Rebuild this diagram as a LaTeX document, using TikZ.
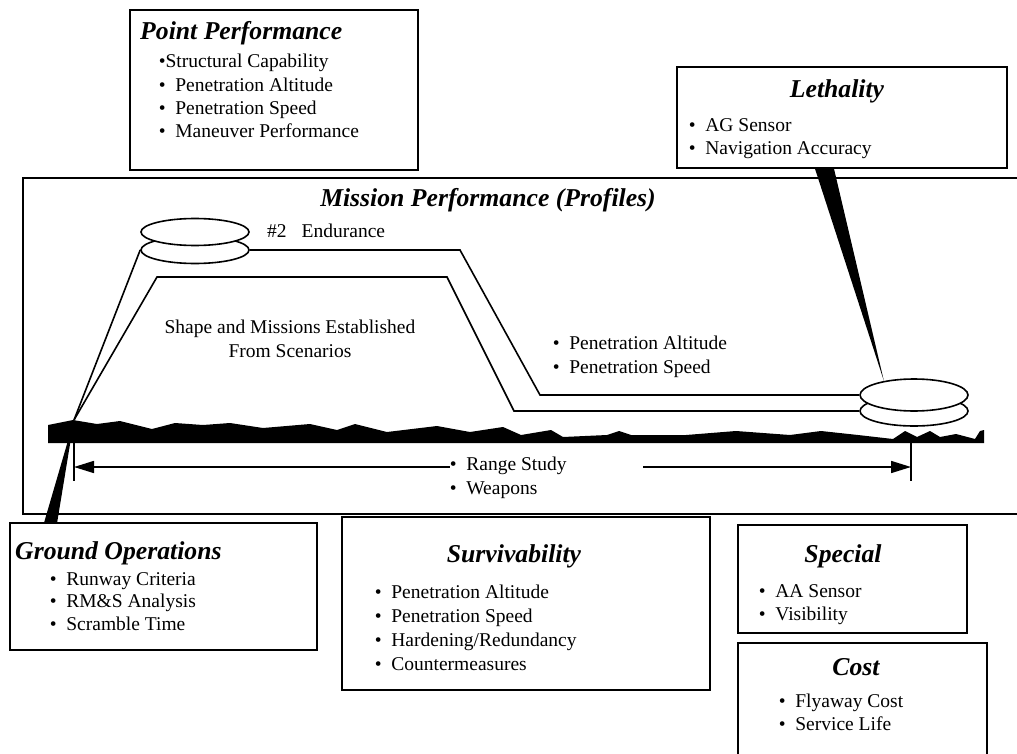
\documentclass[tikz,border=0pt]{standalone}
\usepackage{fontspec}
\setmainfont{Liberation Serif}
\usepackage{tikz}
\usetikzlibrary{positioning,shapes,arrows.meta}

\begin{document}
\begin{tikzpicture}[
  x = 1pt,
  y = -1pt,
  box/.style = {
    draw,
    line width = 1.6pt,
    fill = white,
    inner sep = 0pt,
  },
  orbit/.style = {
    draw,
    ellipse,
    line width = 1.6pt,
    fill = white,
    inner sep = 0pt,
    minimum width = 108pt,
  },
  heading/.style = {
    font = \fontsize{25.7}{30}\selectfont\bfseries\itshape,
    inner sep = 0pt,
    anchor = base,
  },
  item/.style = {
    font = \fontsize{19.5}{23}\selectfont,
    inner sep = 0pt,
    anchor = base west,
  },
  track/.style = {line width = 1.6pt},
  >={Triangle[length=20pt,width=12pt]},
]

  \useasboundingbox (0,0) rectangle (1017,754);

  % mission frame, open to the right
  \draw[line width=2.4pt] (1017,178) -- (23,178) -- (23,514) -- (1017,514);

  % boxes
  \node[box,minimum width=288pt,minimum height=160pt] (point) at (274,90) {};
  \node[box,minimum width=330pt,minimum height=101pt] (leth) at (842,117.5) {};
  \node[box,minimum width=307pt,minimum height=127pt] (gnd) at (163.5,586.5) {};
  \node[box,minimum width=368pt,minimum height=173pt] (surv) at (526,603.5) {};
  \node[box,minimum width=229pt,minimum height=108pt] (spec) at (852.5,579) {};
  \node[box,minimum width=249pt,minimum height=124pt] (cost) at (862.5,705) {};

  % terrain
  \fill (48,443) -- (48,425) -- (73,420) -- (97,424) -- (120,421) -- (152,429)
    -- (175,423) -- (203,425) -- (230,423) -- (263,428) -- (310,424) -- (337,430)
    -- (355,424) -- (387,432) -- (437,426) -- (470,432) -- (503,427) -- (521,435)
    -- (551,430) -- (563,437) -- (607,435) -- (619,431) -- (631,435) -- (686,435)
    -- (736,431) -- (790,435) -- (821,431) -- (858,435) -- (893,439) -- (905,431)
    -- (917,437) -- (930,431) -- (940,437) -- (956,434) -- (975,439) -- (980,431)
    -- (984,430) -- (984,443) -- cycle;

  % orbits
  \node[orbit,minimum height=27pt] (llo) at (195,250) {};
  \node[orbit,minimum height=27pt] (lup) at (195,232) {};
  \node[orbit,minimum height=30pt] (rlo) at (914,411) {};
  \node[orbit,minimum height=32pt] (rup) at (914,395) {};

  % profiles
  \coordinate (to) at (74,420);
  \draw[track] (to) -- (llo.west);
  \draw[track] (llo.east) -- (460,250) -- (540,395) -- (rup.west);
  \draw[track] (to) -- (157,277) -- (447,277) -- (514,411) -- (rlo.west);

  % pointers
  \fill ([xshift=-27pt]leth.south) -- ([xshift=-8pt]leth.south) -- (rup.155) -- cycle;
  \fill ([xshift=35pt]gnd.north west) -- ([xshift=48pt]gnd.north west) -- (to) -- cycle;

  % texts
  \node[heading,anchor=base west] (pptitle) at (140,40) {Point Performance};
  \node[item] (pp1) at (158.6,68) {•Structural Capability};
  \node[below=24pt of pp1.base west,item] (pp2) {•\enspace Penetration Altitude};
  \node[below=23pt of pp2.base west,item] (pp3) {•\enspace Penetration Speed};
  \node[below=23pt of pp3.base west,item] (pp4) {•\enspace Maneuver Performance};

  \node[heading] (lethtitle) at (837,98) {Lethality};
  \node[item] (leth1) at (688.6,132) {•\enspace AG Sensor};
  \node[below=23pt of leth1.base west,item] (leth2) {•\enspace Navigation Accuracy};

  \node[heading] (mtitle) at (488,207) {Mission Performance (Profiles)};
  \node[item] (endur) at (267,237) {\#2\hspace{15pt}Endurance};
  \node[item,anchor=base] (shape1) at (290,333) {Shape and Missions Established};
  \node[below=24pt of shape1.base,item,anchor=base] (shape2) {From Scenarios};
  \node[item] (pen1) at (552.6,349) {•\enspace Penetration Altitude};
  \node[below=24pt of pen1.base west,item] (pen2) {•\enspace Penetration Speed};
  \node[item] (rng) at (449.6,470) {•\enspace Range Study};
  \node[below=24pt of rng.base west,item] (wpn) {•\enspace Weapons};

  % range
  \coordinate (ltick) at (74,467);
  \coordinate (rtick) at (911,467);
  \coordinate (rstart) at (643,467);
  \draw[line width=1.4pt] (ltick) ++(0,-24) -- ++(0,38);
  \draw[line width=1.4pt] (rtick) ++(0,-24) -- ++(0,38);
  \draw[track,->] (rng.west |- ltick) -- (ltick);
  \draw[track,->] (rstart) -- (rtick);

  \node[heading,anchor=base west] (gndtitle) at (15,559) {Ground Operations};
  \node[item] (gnd1) at (49.6,585) {•\enspace Runway Criteria};
  \node[below=22.5pt of gnd1.base west,item] (gnd2) {•\enspace RM\&S Analysis};
  \node[below=22.5pt of gnd2.base west,item] (gnd3) {•\enspace Scramble Time};

  \node[heading] (survtitle) at (514,562) {Survivability};
  \node[item] (surv1) at (374.6,598) {•\enspace Penetration Altitude};
  \node[below=24pt of surv1.base west,item] (surv2) {•\enspace Penetration Speed};
  \node[below=24pt of surv2.base west,item] (surv3) {•\enspace Hardening/Redundancy};
  \node[below=24pt of surv3.base west,item] (surv4) {•\enspace Countermeasures};

  \node[heading] (spectitle) at (843,562) {Special};
  \node[item] (spec1) at (758.6,597) {•\enspace AA Sensor};
  \node[below=23pt of spec1.base west,item] (spec2) {•\enspace Visibility};

  \node[heading] (costtitle) at (856,675) {Cost};
  \node[item] (cost1) at (778.6,707) {•\enspace Flyaway Cost};
  \node[below=23pt of cost1.base west,item] (cost2) {•\enspace Service Life};
\end{tikzpicture}
\end{document}
